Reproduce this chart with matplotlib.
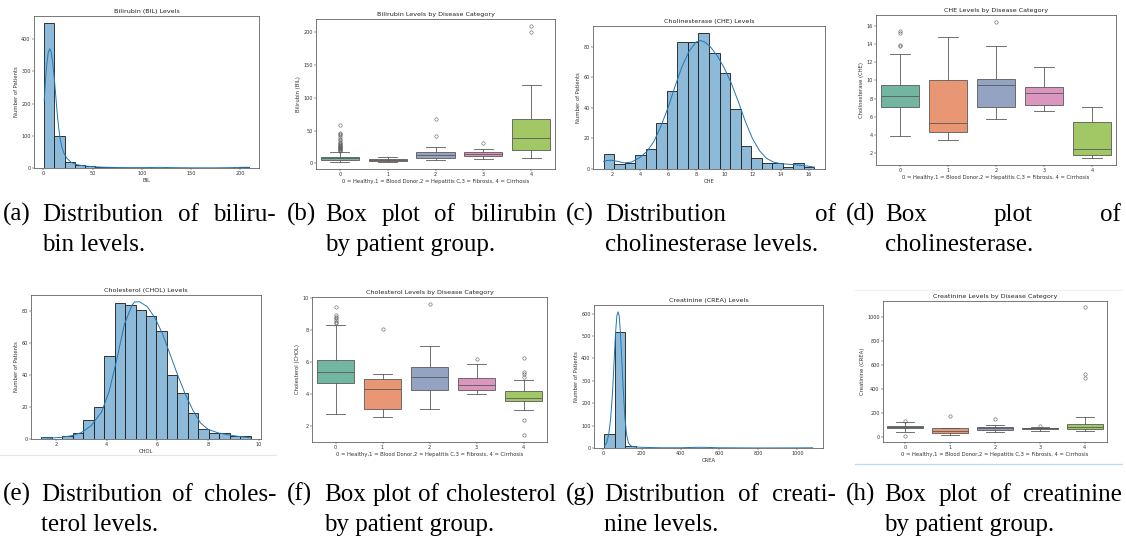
import numpy as np
import matplotlib
matplotlib.use('Agg')
import matplotlib.pyplot as plt
import colorsys
from matplotlib.lines import Line2D

W, H = 1126, 543

# ---------------- data ----------------
categories = [0, 1, 2, 3, 4]
box_xlabel = '0 = Healthy,1 = Blood Donor,2 = Hepatitis C,3 = Fibrosis, 4 = Cirrhosis'

# Bilirubin histogram
bil_range = (0.8, 209.0)
bil_counts = [449, 98, 18, 8, 5, 3, 2, 1, 1, 0, 0, 1, 0, 0, 0, 0, 0, 0, 0, 2]
bil_kde_x = [0.8, 2, 3.5, 5, 6.5, 8, 9.5, 11, 12.5, 14, 15.5, 17, 19, 21, 24, 28, 33, 40, 50,
             60, 75, 90, 105, 118, 130, 150, 170, 190, 200, 209]
bil_kde_y = [210, 270, 325, 360, 370, 358, 325, 280, 225, 170, 125, 90, 62, 45, 30, 18, 11, 7, 4,
             2.5, 1.5, 1.2, 1.3, 2, 1.2, 0.6, 0.5, 1.0, 2.0, 2.3]

# Cholinesterase histogram
che_range = (1.42, 16.41)
che_counts = [10, 3, 4, 9, 13, 30, 51, 83, 83, 89, 76, 63, 39, 15, 7, 4, 4, 1, 4, 1]
che_kde_x = [1.42, 1.7, 2.0, 2.4, 2.9, 3.4, 4.0, 4.5, 5.0, 5.5, 6.0, 6.5, 7.0, 7.5, 8.0, 8.3, 8.6,
             9.0, 9.5, 10.0, 10.5, 11.0, 11.5, 12.0, 12.5, 13.0, 13.5, 14.0, 15.0, 16.0, 16.41]
che_kde_y = [5.0, 5.6, 5.7, 5.0, 4.0, 4.5, 7.5, 11.5, 18, 28, 40, 54, 67, 77, 83, 84, 83,
             80, 74, 66, 56, 44, 31, 20, 12, 7, 4.5, 3.5, 2.8, 1.8, 1.2]

# Cholesterol histogram
chol_range = (1.43, 9.67)
chol_counts = [1, 0, 2, 4, 12, 20, 52, 85, 84, 81, 77, 68, 40, 29, 16, 6, 4, 4, 2, 2]
chol_kde_x = [1.43, 1.8, 2.2, 2.6, 3.0, 3.4, 3.8, 4.1, 4.4, 4.7, 5.0, 5.1, 5.3, 5.6, 5.9, 6.2,
              6.5, 6.8, 7.1, 7.4, 7.7, 8.0, 8.4, 8.8, 9.2, 9.67]
chol_kde_y = [0.8, 0.6, 1.0, 2.0, 4.0, 8.5, 17, 30, 50, 72, 84, 86, 86, 83, 76, 66,
              53, 40, 28, 18, 10, 6, 3.8, 2.6, 1.6, 0.8]

# Creatinine histogram
crea_range = (8.0, 1079.0)
crea_counts = [62, 518, 7, 1, 0, 0, 0, 0, 1, 1, 0, 0, 0, 0, 0, 0, 0, 0, 0, 1]
crea_kde_x = [8, 20, 30, 40, 50, 58, 65, 72, 78, 84, 90, 97, 105, 113, 122, 132, 145, 165, 200,
              300, 400, 480, 520, 600, 800, 1000, 1079]
crea_kde_y = [8, 25, 60, 130, 250, 390, 510, 590, 608, 590, 520, 400, 260, 140, 60, 22, 9, 5, 3,
              1, 1, 3, 3, 1, 0.3, 0.5, 1]

# Box plot statistics per category (0..4)
bil_q1 = [5.6, 3.5, 8.1, 12.0, 20.3]
bil_med = [7.6, 5.0, 13.2, 15.0, 39.0]
bil_q3 = [10.6, 7.5, 17.2, 17.7, 66.8]
bil_lo = [2.0, 2.0, 5.5, 7.0, 7.6]
bil_hi = [17.7, 10.6, 24.3, 22.0, 118.5]
bil_fliers = [[19, 20, 21, 22, 23, 24, 25, 26, 27, 28, 29, 31, 33, 35, 37, 40, 43, 45, 46, 59],
              [], [42, 67], [31], [200, 209]]

che_q1 = [7.07, 4.32, 7.07, 7.26, 1.81]
che_med = [8.28, 5.31, 9.53, 8.62, 2.47]
che_q3 = [9.53, 10.08, 10.2, 9.28, 5.42]
che_lo = [3.91, 3.43, 5.75, 6.63, 1.45]
che_hi = [12.88, 14.8, 13.8, 11.48, 7.07]
che_fliers = [[13.75, 13.85, 15.2, 15.45], [], [16.45], [], []]

chol_q1 = [4.69, 3.10, 4.24, 4.28, 3.60]
chol_med = [5.40, 4.30, 5.09, 4.61, 3.78]
chol_q3 = [6.15, 4.96, 5.71, 5.00, 4.20]
chol_lo = [2.79, 2.60, 3.10, 4.03, 3.02]
chol_hi = [8.36, 5.27, 7.04, 5.88, 4.88]
chol_fliers = [[8.45, 8.55, 8.65, 8.75, 8.85, 8.95, 9.44], [8.07], [9.67], [6.19],
               [1.43, 2.39, 5.1, 5.25, 5.38, 6.29]]

crea_q1 = [68, 28, 55, 60, 60]
crea_med = [77, 50, 70, 68, 79]
crea_q3 = [88, 68, 80, 75, 107]
crea_lo = [39, 11, 40, 50, 45]
crea_hi = [118, 73, 100, 82, 160]
crea_fliers = [[8, 132], [171], [146], [90], [486, 522, 1079]]

captions = [
    ('(a)', ['Distribution', 'of', 'biliru-'], 'bin levels.'),
    ('(b)', ['Box', 'plot', 'of', 'bilirubin'], 'by patient group.'),
    ('(c)', ['Distribution', 'of'], 'cholinesterase levels.'),
    ('(d)', ['Box', 'plot', 'of'], 'cholinesterase.'),
    ('(e)', ['Distribution', 'of', 'choles-'], 'terol levels.'),
    ('(f)', ['Box', 'plot', 'of', 'cholesterol'], 'by patient group.'),
    ('(g)', ['Distribution', 'of', 'creati-'], 'nine levels.'),
    ('(h)', ['Box', 'plot', 'of', 'creatinine'], 'by patient group.'),
]

# ---------------- style ----------------
plt.rcParams['font.family'] = ['DejaVu Sans']
TITLE_FS = 4.6
LABEL_FS = 3.8
TICK_FS = 3.5
HIST_BLUE = '#1f77b4'

set2 = ['#66c2a5', '#fc8d62', '#8da0cb', '#e78ac3', '#a6d854']


def desat(hexc, prop=0.75):
    r, g, b = matplotlib.colors.to_rgb(hexc)
    h, l, s = colorsys.rgb_to_hls(r, g, b)
    return colorsys.hls_to_rgb(h, l, s * prop)


box_colors = [desat(c) for c in set2]
lum = min(colorsys.rgb_to_hls(*c)[1] for c in box_colors) * 0.6
LINE_GRAY = (lum, lum, lum)

fig = plt.figure(figsize=(W / 100, H / 100), dpi=100)


def add_ax(l, t, r, b):
    return fig.add_axes([l / W, 1 - b / H, (r - l) / W, (b - t) / H])


def style_ax(ax):
    for s in ax.spines.values():
        s.set_color('#555555')
        s.set_linewidth(0.55)
    ax.tick_params(labelsize=TICK_FS, length=1.3, width=0.35, pad=1.2,
                   colors='#333333', labelcolor='#333333')


def hist_panel(ax, rng, counts, kx, ky, title, xlabel):
    edges = np.linspace(rng[0], rng[1], len(counts) + 1)
    ax.bar(edges[:-1], counts, width=np.diff(edges), align='edge',
           facecolor=matplotlib.colors.to_rgba(HIST_BLUE, 0.5),
           edgecolor='#262626', linewidth=0.65)
    ax.plot(kx, ky, color=HIST_BLUE, lw=0.7)
    ax.set_title(title, fontsize=TITLE_FS, pad=2, color='#222222')
    ax.set_xlabel(xlabel, fontsize=LABEL_FS, labelpad=1.2, color='#333333')
    ax.set_ylabel('Number of Patients', fontsize=LABEL_FS, labelpad=1.5, color='#333333')
    style_ax(ax)


def box_panel(ax, q1, med, q3, lo, hi, fliers, title, ylabel):
    stats = []
    for i in range(len(categories)):
        stats.append(dict(q1=q1[i], med=med[i], q3=q3[i], whislo=lo[i], whishi=hi[i],
                          fliers=fliers[i]))
    bp = ax.bxp(stats, positions=categories, widths=0.8, patch_artist=True,
                boxprops=dict(edgecolor=LINE_GRAY, linewidth=0.6),
                whiskerprops=dict(color=LINE_GRAY, linewidth=0.6),
                capprops=dict(color=LINE_GRAY, linewidth=0.6),
                medianprops=dict(color=LINE_GRAY, linewidth=0.6),
                flierprops=dict(marker='o', markerfacecolor='none', markeredgecolor=LINE_GRAY,
                                markersize=2.4, markeredgewidth=0.4))
    for patch, c in zip(bp['boxes'], box_colors):
        patch.set_facecolor(c)
    for cap in bp['caps']:
        xd = cap.get_xdata()
        mid = (xd[0] + xd[1]) / 2
        cap.set_xdata([mid - 0.2, mid + 0.2])
    ax.set_xlim(-0.5, 4.5)
    ax.set_xticks(categories)
    ax.set_xticklabels([str(c) for c in categories])
    ax.set_title(title, fontsize=TITLE_FS, pad=2, color='#222222')
    ax.set_xlabel(box_xlabel, fontsize=LABEL_FS, labelpad=1.2, color='#333333')
    ax.set_ylabel(ylabel, fontsize=LABEL_FS, labelpad=1.5, color='#333333')
    style_ax(ax)


# ---------------- panels ----------------
ax_a = add_ax(34, 16, 259, 168)
hist_panel(ax_a, bil_range, bil_counts, bil_kde_x, bil_kde_y, 'Bilirubin (BIL) Levels', 'BIL')

ax_b = add_ax(316, 19, 555, 169)
box_panel(ax_b, bil_q1, bil_med, bil_q3, bil_lo, bil_hi, bil_fliers,
          'Bilirubin Levels by Disease Category', 'Bilirubin (BIL)')

ax_c = add_ax(593, 26, 825, 169)
hist_panel(ax_c, che_range, che_counts, che_kde_x, che_kde_y, 'Cholinesterase (CHE) Levels', 'CHE')

ax_d = add_ax(876, 15, 1116, 165)
box_panel(ax_d, che_q1, che_med, che_q3, che_lo, che_hi, che_fliers,
          'CHE Levels by Disease Category', 'Cholinesterase (CHE)')

ax_e = add_ax(31, 295, 261, 439)
hist_panel(ax_e, chol_range, chol_counts, chol_kde_x, chol_kde_y, 'Cholesterol (CHOL) Levels', 'CHOL')

ax_f = add_ax(312, 297, 547, 442)
box_panel(ax_f, chol_q1, chol_med, chol_q3, chol_lo, chol_hi, chol_fliers,
          'Cholesterol Levels by Disease Category', 'Cholesterol (CHOL)')

ax_g = add_ax(594, 305, 823, 448)
hist_panel(ax_g, crea_range, crea_counts, crea_kde_x, crea_kde_y, 'Creatinine (CREA) Levels', 'CREA')

ax_h = add_ax(883, 301, 1107, 442)
box_panel(ax_h, crea_q1, crea_med, crea_q3, crea_lo, crea_hi, crea_fliers,
          'Creatinine Levels by Disease Category', 'Creatinine (CREA)')

# faint screenshot separator lines
fig.add_artist(Line2D([0 / W, 276 / W], [1 - 455 / H, 1 - 455 / H], color='#e6e6e6', lw=0.8))
fig.add_artist(Line2D([855 / W, 1122 / W], [1 - 290 / H, 1 - 290 / H], color='#f0f0f0', lw=0.8))
fig.add_artist(Line2D([855 / W, 1122 / W], [1 - 464 / H, 1 - 464 / H], color='#b9dcf7', lw=0.9))

# ---------------- captions ----------------
CAP_FONT = dict(family='Liberation Serif', size=18, color='black')
cap_x0 = [3, 287, 566, 846, 3, 287, 566, 846]
cap_indent = [42, 325, 605, 885, 41, 324, 604, 884]
cap_right = [276, 556, 836, 1121, 276, 556, 836, 1122]
cap_base1 = [221, 221, 221, 221, 501, 501, 501, 501]
LINE_GAP = 30

renderer = fig.canvas.get_renderer()


def fx(x):
    return x / W


def fy(y):
    return 1 - y / H


for i, (lab, words, line2) in enumerate(captions):
    y1 = cap_base1[i]
    fig.text(fx(cap_x0[i]), fy(y1), lab, ha='left', va='baseline', **CAP_FONT)
    ts = [fig.text(0, fy(y1), w, ha='left', va='baseline', **CAP_FONT) for w in words]
    widths = [t.get_window_extent(renderer).width for t in ts]
    total = sum(widths)
    gap = (cap_right[i] - cap_indent[i] - total) / (len(words) - 1)
    x = cap_indent[i]
    for t, w in zip(ts, widths):
        t.set_x(fx(x))
        x += w + gap
    fig.text(fx(cap_indent[i]), fy(y1 + LINE_GAP), line2, ha='left', va='baseline', **CAP_FONT)

fig.savefig('out.png', dpi=100)
